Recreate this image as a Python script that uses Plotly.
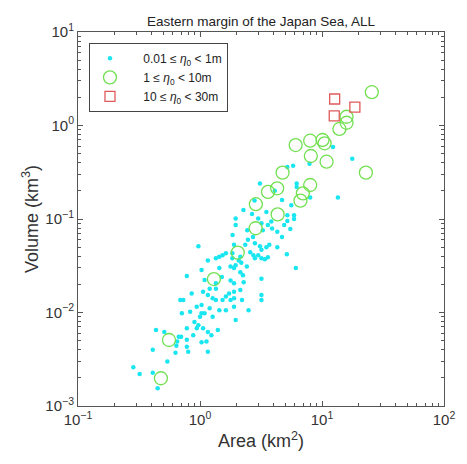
import plotly.graph_objects as go

# ---- data (area km^2, volume km^3) ----
small_area = [12.3, 17.7, 7.9, 5.2, 5.8, 3.1, 6.2, 6.2, 4.1, 13.5, 8.0, 4.7, 2.8, 5.6, 2.27, 2.67,
              3.5, 5.2, 5.9, 3.0, 5.9, 5.2, 1.96, 1.96, 4.9, 3.6, 2.44, 3.27, 3.9, 4.3, 4.7, 2.72,
              1.85, 2.35, 2.82, 3.1, 3.5, 3.7, 4.3, 0.97, 5.15, 6.1, 1.63, 1.16, 1.35, 1.44, 1.53,
              1.84, 2.08, 2.74, 2.82, 3.0, 3.19, 1.78, 1.96, 2.18, 2.42, 2.14, 2.25, 1.9, 1.44, 1.03,
              0.78, 1.09, 1.35, 1.51, 3.19, 1.78, 2.28, 1.9, 1.2, 1.35, 1.06, 0.855, 0.69, 0.73,
              1.16, 1.27, 1.35, 1.53, 1.63, 1.73, 1.9, 1.78, 1.9, 2.14, 2.21, 3.19, 3.19, 1.9, 1.03,
              0.94, 1.2, 1.44, 1.63, 0.83, 0.71, 1.03, 1.09, 2.5, 1.27, 1.0, 1.96, 0.78, 0.97, 0.94,
              1.06, 1.4, 1.16, 0.436, 0.51, 0.67, 0.88, 0.65, 0.78, 1.03, 0.41, 0.64, 0.78, 0.8,
              0.63, 1.16, 0.54, 0.284, 0.32, 0.41, 0.45, 0.70, 1.13, 1.24, 0.90, 3.4,
              2.47, 1.90, 1.84, 2.14, 2.58, 3.6, 3.19, 5.5, 3.19, 3.84]
small_vol = [0.59, 0.44, 0.39, 0.36, 0.37, 0.24, 0.24, 0.22, 0.20, 0.17, 0.17, 0.16, 0.158, 0.14,
             0.125, 0.113, 0.119, 0.110, 0.110, 0.101, 0.100, 0.095, 0.101, 0.086, 0.086, 0.086,
             0.076, 0.076, 0.079, 0.073, 0.064, 0.064, 0.0675, 0.053, 0.055, 0.051, 0.050, 0.053,
             0.050, 0.051, 0.042, 0.030, 0.043, 0.036, 0.038, 0.0395, 0.041, 0.038, 0.036, 0.041,
             0.038, 0.041, 0.038, 0.031, 0.032, 0.034, 0.031, 0.027, 0.025, 0.030, 0.030, 0.0285,
             0.0246, 0.0223, 0.0205, 0.024, 0.023, 0.022, 0.021, 0.0205, 0.018, 0.018, 0.0167,
             0.016, 0.0136, 0.0136, 0.0154, 0.0142, 0.0136, 0.0136, 0.0148, 0.016, 0.0167, 0.0136,
             0.0142, 0.0174, 0.0136, 0.0154, 0.0136, 0.0115, 0.012, 0.0115, 0.0111, 0.0106, 0.0106,
             0.0102, 0.0098, 0.0098, 0.0098, 0.0106, 0.009, 0.009, 0.0083, 0.0068, 0.0073, 0.0068,
             0.0068, 0.0065, 0.0062, 0.0065, 0.0062, 0.0055, 0.0057, 0.0049, 0.0051, 0.0048,
             0.0040, 0.0044, 0.0043, 0.0038, 0.0037, 0.0038, 0.0030, 0.0026, 0.0022, 0.00227,
             0.00155, 0.0055, 0.0049, 0.0057, 0.0079, 0.037,
             0.060, 0.053, 0.043, 0.0395, 0.044, 0.039, 0.047, 0.078, 0.090, 0.094]

mid_area = [25.6, 15.9, 15.9, 13.9, 10.1, 10.5, 8.0, 6.08, 8.1, 10.9, 4.75, 22.9, 8.0, 4.29,
            3.61, 6.97, 6.66, 2.87, 4.33, 2.86, 2.04, 1.30, 0.557, 0.478]
mid_vol = [2.27, 1.24, 1.07, 0.918, 0.70, 0.645, 0.688, 0.618, 0.472, 0.41, 0.313, 0.313, 0.231,
           0.213, 0.195, 0.188, 0.157, 0.144, 0.112, 0.0796, 0.0437, 0.0228, 0.00508, 0.00198]

big_area = [12.7, 18.6, 12.6]
big_vol = [1.92, 1.57, 1.27]

legend_names = ["0.01 \u2264 <i>\u03b7</i><sub>0</sub> &lt; 1m",
                "1 \u2264 <i>\u03b7</i><sub>0</sub> &lt; 10m",
                "10 \u2264 <i>\u03b7</i><sub>0</sub> &lt; 30m"]

x_tickvals = [0.1, 1, 10, 100]
x_ticktext = ["10<sup>\u22121</sup>", "10<sup>0</sup>", "10<sup>1</sup>", "10<sup>2</sup>"]
y_tickvals = [0.001, 0.01, 0.1, 1, 10]
y_ticktext = ["10<sup>\u22123</sup>", "10<sup>\u22122</sup>", "10<sup>\u22121</sup>",
              "10<sup>0</sup>", "10<sup>1</sup>"]

FONT = "Liberation Sans, Arial, sans-serif"
PAD = "&nbsp;" * 4

fig = go.Figure()
fig.add_trace(go.Scatter(x=small_area, y=small_vol, mode="markers", name=PAD + legend_names[0],
                         marker=dict(symbol="circle", size=4.5, color="#19e6f0", line=dict(width=0))))
fig.add_trace(go.Scatter(x=mid_area, y=mid_vol, mode="markers", name=PAD + legend_names[1],
                         marker=dict(symbol="circle-open", size=13, color="#72e052", line=dict(width=1.3))))
fig.add_trace(go.Scatter(x=big_area, y=big_vol, mode="markers", name=PAD + legend_names[2],
                         marker=dict(symbol="square-open", size=10, color="#e05a5a", line=dict(width=1.3))))

minor_x = [m * d for d in (0.1, 1, 10) for m in range(2, 10)]
minor_y = [m * d for d in (0.001, 0.01, 0.1, 1) for m in range(2, 10)]

axis_common = dict(type="log", showline=True, linecolor="#555555", linewidth=1, mirror="allticks",
                   ticks="inside", ticklen=5, tickcolor="#555555", showgrid=False, zeroline=False,
                   tickfont=dict(family=FONT, size=15, color="#333333"))

fig.update_xaxes(range=[-1, 2], tickmode="array", tickvals=x_tickvals, ticktext=x_ticktext,
                 minor=dict(tickmode="array", tickvals=minor_x, ticks="inside", ticklen=3,
                            tickcolor="#555555", showgrid=False),
                 title=dict(text="Area (km<sup>2</sup>)", font=dict(family=FONT, size=18, color="#333333"),
                            standoff=7),
                 **axis_common)
fig.update_yaxes(range=[-3, 1], tickmode="array", tickvals=y_tickvals, ticktext=y_ticktext,
                 minor=dict(tickmode="array", tickvals=minor_y, ticks="inside", ticklen=3,
                            tickcolor="#555555", showgrid=False),
                 title=dict(text="Volume (km<sup>3</sup>)", font=dict(family=FONT, size=18, color="#333333"),
                            standoff=2),
                 **axis_common)

fig.update_layout(
    width=467, height=464,
    margin=dict(l=78, r=13, t=32, b=58),
    paper_bgcolor="white", plot_bgcolor="white",
    title=dict(text="Eastern margin of the Japan Sea, ALL", xref="paper", x=0.5, xanchor="center",
               y=0.955, yanchor="middle", font=dict(family=FONT, size=13.5, color="#222222")),
    showlegend=True,
    legend=dict(x=0.03, y=0.971, xanchor="left", yanchor="top", bgcolor="white",
                bordercolor="#444444", borderwidth=1, font=dict(family=FONT, size=12, color="#222222"),
                itemsizing="trace", tracegroupgap=0),
)

fig.write_html("out.html")
